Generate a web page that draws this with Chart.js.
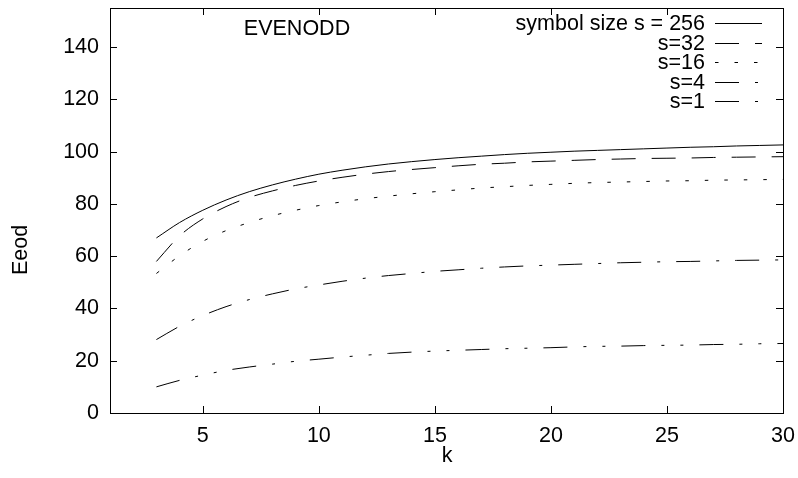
<!DOCTYPE html>
<html>
<head>
<meta charset="utf-8">
<title>EVENODD</title>
<script src="https://cdn.jsdelivr.net/npm/chart.js@4.4.0/dist/chart.umd.min.js"></script>
<style>
    html, body { margin: 0; padding: 0; background: #fff; }
    #wrap { width: 798px; height: 478px; position: relative; }
</style>
</head>
<body>
<div id="wrap"><canvas id="chart-eeod"></canvas></div>
<script>
// =====================================================
// DADOS
// =====================================================

const kValues = [3, 4, 5, 6, 7, 8, 9, 10, 11, 12, 13, 14, 15, 16, 17, 18, 19, 20, 21, 22, 23, 24, 25, 26, 27, 28, 29, 30];

const eeod256 = [67.0, 72.9, 77.6, 81.5, 84.7, 87.3, 89.5, 91.4, 92.9, 94.2, 95.3, 96.2, 97.0, 97.7, 98.3, 98.9, 99.4, 99.8, 100.2, 100.5, 100.8, 101.1, 101.4, 101.7, 101.9, 102.2, 102.4, 102.6];
const eeod32  = [58.0, 67.8, 74.3, 79.0, 82.5, 85.0, 87.1, 88.8, 90.2, 91.4, 92.4, 93.2, 93.9, 94.6, 95.2, 95.6, 96.1, 96.4, 96.7, 97.0, 97.2, 97.4, 97.5, 97.6, 97.8, 97.9, 98.0, 98.1];
const eeod16  = [53.4, 60.2, 65.7, 69.8, 72.9, 75.5, 77.6, 79.4, 80.8, 82.0, 83.0, 83.9, 84.7, 85.4, 86.1, 86.6, 87.1, 87.5, 87.9, 88.2, 88.4, 88.6, 88.8, 88.9, 89.1, 89.2, 89.3, 89.4];
const eeod4   = [28.1, 33.2, 37.3, 40.7, 43.4, 45.6, 47.5, 49.0, 50.4, 51.6, 52.6, 53.4, 54.2, 54.8, 55.4, 55.9, 56.3, 56.6, 56.9, 57.2, 57.5, 57.7, 57.9, 58.0, 58.2, 58.4, 58.5, 58.6];
const eeod1   = [10.0, 12.5, 14.5, 16.3, 17.6, 18.7, 19.8, 20.6, 21.4, 22.1, 22.8, 23.3, 23.7, 24.0, 24.3, 24.6, 24.8, 25.0, 25.3, 25.5, 25.6, 25.8, 25.9, 26.0, 26.2, 26.3, 26.5, 26.6];

const seriesLabels = ['symbol size s = 256', 's=32', 's=16', 's=4', 's=1'];
const xTicks = [5, 10, 15, 20, 25, 30];
const yTicks = [0, 20, 40, 60, 80, 100, 120, 140];

// =====================================================
// CONFIGURAÇÕES
// =====================================================

const FONT = "'Liberation Sans', Arial, sans-serif";
const FONT_SIZE = 21.5;

// padrões de traço estilo gnuplot
const dashPatterns = [
    [],
    [24, 16],
    [3.5, 16],
    [24, 16, 3, 16],
    [24, 16, 3, 16, 3, 16]
];

function toPoints(values) {
    return kValues.map((k, i) => ({ x: k, y: values[i] }));
}

/**
 * Moldura, ticks internos, título e legenda
 */
const gnuplotFrame = {
    id: 'gnuplotFrame',
    afterDraw(chart) {
        const ctx = chart.ctx;
        const area = chart.chartArea;
        const xs = chart.scales.x;
        const ys = chart.scales.y;
        const tick = 7;

        ctx.save();
        ctx.strokeStyle = '#000';
        ctx.lineWidth = 1;
        ctx.setLineDash([]);
        ctx.strokeRect(Math.round(area.left) + 0.5, Math.round(area.top) + 0.5,
            Math.round(area.right - area.left), Math.round(area.bottom - area.top));

        ctx.beginPath();
        xTicks.forEach(v => {
            const px = Math.round(xs.getPixelForValue(v)) + 0.5;
            ctx.moveTo(px, area.bottom);
            ctx.lineTo(px, area.bottom - tick);
            ctx.moveTo(px, area.top);
            ctx.lineTo(px, area.top + tick);
        });
        yTicks.forEach(v => {
            const py = Math.round(ys.getPixelForValue(v)) + 0.5;
            ctx.moveTo(area.left, py);
            ctx.lineTo(area.left + tick, py);
            ctx.moveTo(area.right, py);
            ctx.lineTo(area.right - tick, py);
        });
        ctx.stroke();

        ctx.fillStyle = '#000';
        ctx.font = FONT_SIZE + 'px ' + FONT;
        ctx.textBaseline = 'middle';

        // título
        ctx.textAlign = 'center';
        ctx.fillText('EVENODD', 297, 29);
        ctx.fillText('k', 447, 456);

        // rótulo do eixo y
        ctx.save();
        ctx.translate(21, 250);
        ctx.rotate(-Math.PI / 2);
        ctx.fillText('Eeod', 0, 0);
        ctx.restore();

        // legenda
        ctx.textAlign = 'right';
        seriesLabels.forEach((label, i) => {
            const y = 24 + i * 19.6;
            ctx.fillText(label, 705, y);
            ctx.beginPath();
            ctx.setLineDash(dashPatterns[i]);
            ctx.moveTo(715, Math.round(y - 1) + 0.5);
            ctx.lineTo(762, Math.round(y - 1) + 0.5);
            ctx.stroke();
        });
        ctx.restore();
    }
};

// =====================================================
// CRIAÇÃO DO GRÁFICO
// =====================================================

function criarGrafico() {
    const ctx = document.getElementById('chart-eeod');
    const allSeries = [eeod256, eeod32, eeod16, eeod4, eeod1];

    new Chart(ctx, {
        type: 'line',
        data: {
            datasets: allSeries.map((values, i) => ({
                label: seriesLabels[i],
                data: toPoints(values),
                borderColor: '#000',
                borderWidth: 1,
                borderDash: dashPatterns[i],
                pointRadius: 0,
                fill: false,
                tension: 0.4,
                cubicInterpolationMode: 'monotone'
            }))
        },
        options: {
            responsive: true,
            maintainAspectRatio: false,
            animation: false,
            layout: { padding: { top: 8, right: 15, left: 0, bottom: 0 } },
            plugins: {
                legend: { display: false },
                tooltip: { enabled: false }
            },
            scales: {
                x: {
                    type: 'linear',
                    min: 1,
                    max: 30,
                    afterBuildTicks: s => { s.ticks = xTicks.map(v => ({ value: v })); },
                    afterFit: s => {
                        s.height = 65;
                        s.paddingLeft = 0;
                        s.paddingRight = 0;
                    },
                    grid: { display: false, drawTicks: false },
                    border: { display: false },
                    ticks: {
                        padding: 10,
                        color: '#000',
                        maxRotation: 0,
                        font: { family: FONT, size: FONT_SIZE }
                    }
                },
                y: {
                    min: 0,
                    max: 155,
                    afterBuildTicks: s => { s.ticks = yTicks.map(v => ({ value: v })); },
                    afterFit: s => {
                        s.width = 110;
                        s.paddingTop = 0;
                        s.paddingBottom = 0;
                    },
                    grid: { display: false, drawTicks: false },
                    border: { display: false },
                    ticks: {
                        padding: 11,
                        color: '#000',
                        font: { family: FONT, size: FONT_SIZE }
                    }
                }
            }
        },
        plugins: [gnuplotFrame]
    });
}

criarGrafico();
</script>
</body>
</html>
